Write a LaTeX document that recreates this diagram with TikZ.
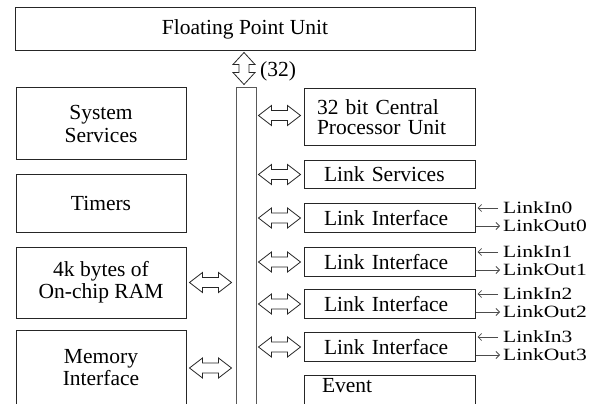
\documentclass[tikz,border=0pt]{standalone}
\usepackage{fontspec}
\usepackage{graphicx}
\setmainfont{Liberation Serif}
\usetikzlibrary{calc,arrows.meta}
\tikzset{
  box/.style={draw=black!85, line width=1pt, rectangle, inner sep=0pt, font=\fontsize{21.5}{22}\selectfont},
  lbox/.style={box, minimum width=170pt, align=center},
  rbox/.style={box, text width=131pt, inner xsep=20pt, align=left, minimum width=171pt},
  busbox/.style={draw=black!65, line width=1pt, rectangle, minimum width=20pt, inner sep=0pt},
  dblarr/.style={draw=black!85, line width=0.8pt, line join=miter},
  linkarr/.style={draw=black!70, line width=0.8pt, -{Straight Barb[length=3.5pt,width=7pt]}},
  lbl/.style={font=\fontsize{21.5}{22}\selectfont, inner sep=0pt, anchor=west}
}
\newcommand\squeeze[1]{\scalebox{1}[0.8]{#1}}
\newcommand\hdbl[2]{%
  \draw[dblarr] let \p1=#1, \p2=#2 in
   (\x1,\y1) -- (\x1+13pt,\y1+10pt) -- (\x1+13pt,\y1+5pt) -- (\x2-13pt,\y1+5pt) -- (\x2-13pt,\y1+10pt)
   -- (\x2,\y1) -- (\x2-13pt,\y1-10pt) -- (\x2-13pt,\y1-5pt) -- (\x1+13pt,\y1-5pt) -- (\x1+13pt,\y1-10pt) -- cycle;}
\newcommand\vdbl[2]{%
  \draw[dblarr] let \p1=#1, \p2=#2 in
   (\x1,\y1) -- (\x1+11pt,\y1-12pt) -- (\x1+5pt,\y1-12pt) -- (\x1+5pt,\y2+12pt) -- (\x1+11pt,\y2+12pt)
   -- (\x1,\y2) -- (\x1-11pt,\y2+12pt) -- (\x1-5pt,\y2+12pt) -- (\x1-5pt,\y1-12pt) -- (\x1-11pt,\y1-12pt) -- cycle;}
\begin{document}
\begin{tikzpicture}[x=1pt,y=-1pt]
\useasboundingbox (0,0) rectangle (598,404);
% top unit
\node[box, minimum width=460pt, minimum height=43pt] (fpu) at (245,29.5) {Floating Point Unit};
% bus
\node[busbox, minimum height=322pt] (bus) at (246,249) {};
% left column
\node[lbox, minimum height=72pt, font=\fontsize{21.5}{23}\selectfont] (sys) at (101,124) {System\\Services};
\node[lbox, minimum height=58pt] (tim) at (101,203) {Timers};
\node[lbox, minimum height=71pt] (ram) at (101,282.5) {4k bytes of\\On-chip RAM};
\node[lbox, minimum height=76pt] (mem) at (101,368) {Memory\\Interface};
% right column
\node[box, text width=145pt, inner xsep=13pt, align=left, minimum height=57pt, font=\fontsize{21.5}{20}\selectfont] (cpu) at (389.5,117.5) {32 bit Central\\Processor Unit};
\node[rbox, minimum height=27pt] (lsv) at (389.5,174.5) {Link Services};
\foreach \k/\t in {0/203,1/247,2/289,3/332}{
  \node[rbox, minimum height=29pt, anchor=north] (lk\k) at (389.5,\t) {Link Interface};
  \node[lbl] (in\k) at (503,\t+5) {\squeeze{LinkIn\k}};
  \node[lbl] (out\k) at (503,\t+23) {\squeeze{LinkOut\k}};
  \draw[linkarr] ($(in\k.west)+(-5,0)$) -- ($(lk\k.east|-in\k.west)+(2,0)$);
  \draw[linkarr] (lk\k.east|-out\k.west) -- ($(out\k.west)+(-3,0)$);
}
\node[rbox, anchor=north, text height=15pt, text depth=20pt, inner ysep=2pt, inner xsep=18pt, text width=135pt] (evt) at (389.5,375) {Event};
% bus connections
\vdbl{($(bus.north|-fpu.south)+(-2,1)$)}{($(bus.north)+(-2,-3)$)}
\node[lbl] (w32) at (260,71) {(32)};
\hdbl{($(bus.east|-cpu.west)+(2,-2)$)}{($(cpu.west)+(-3,-2)$)}
\hdbl{($(bus.east|-lsv.west)+(2,0)$)}{($(lsv.west)+(-3,0)$)}
\foreach \k in {0,1,2,3}{
  \hdbl{($(bus.east|-lk\k.west)+(2,0)$)}{($(lk\k.west)+(-3,0)$)}
}
\hdbl{($(ram.east)+(3,0)$)}{($(bus.west|-ram.east)+(-4,0)$)}
\hdbl{($(mem.east)+(3,0)$)}{($(bus.west|-mem.east)+(-4,0)$)}
\end{tikzpicture}
\end{document}
